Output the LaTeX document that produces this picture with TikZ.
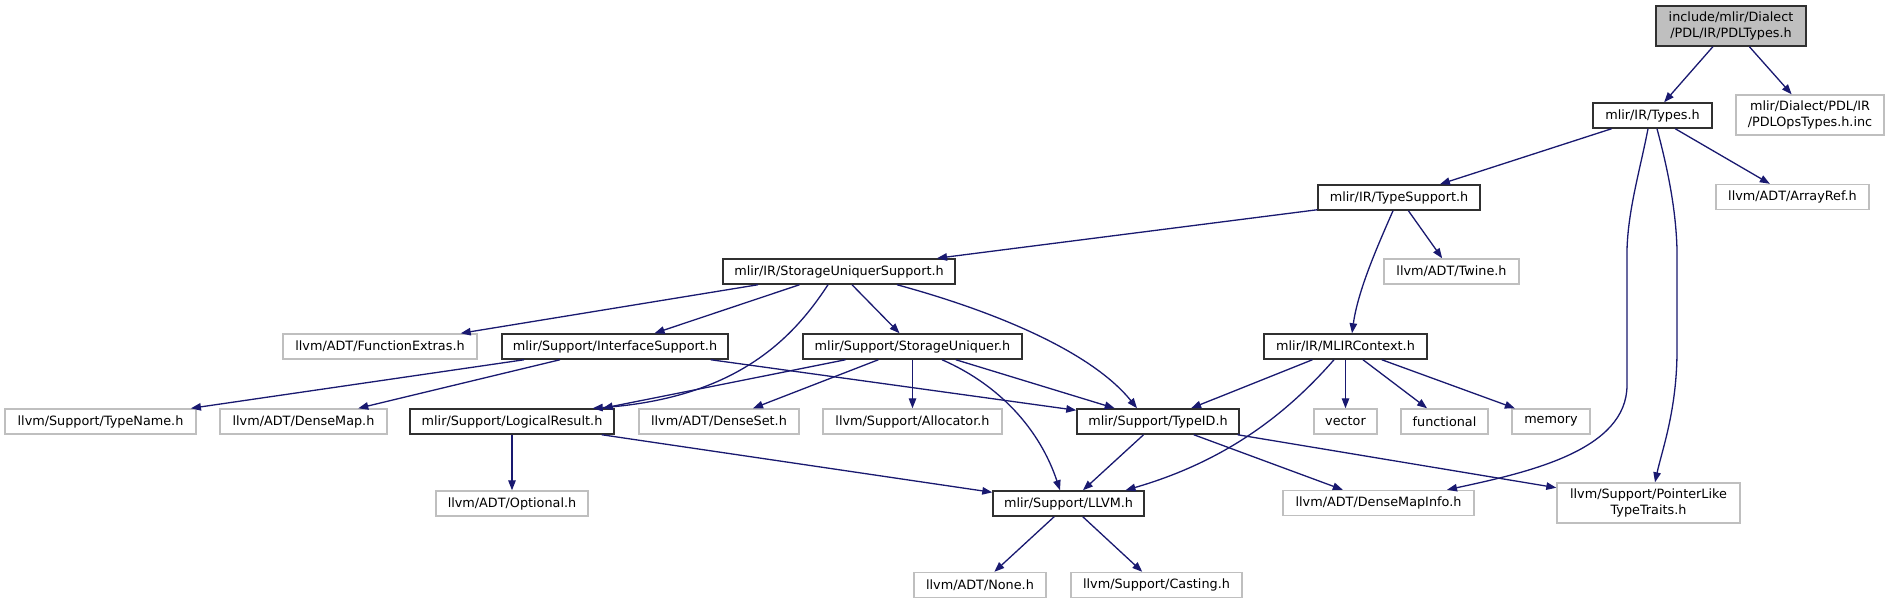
\documentclass[tikz,border=0pt]{standalone}
\usepackage{fontspec}
\setmainfont{DejaVu Sans}
\usetikzlibrary{arrows.meta}
\definecolor{edgecol}{HTML}{191970}
\definecolor{graybd}{HTML}{BFBFBF}
\definecolor{docbd}{HTML}{303030}
\tikzset{
  box/.style={draw, inner sep=0pt, minimum height=25pt, align=center, anchor=center,
    font=\fontsize{12.8}{16}\selectfont},
  doc/.style={box, draw=docbd, line width=1.5pt},
  undoc/.style={box, draw=graybd, line width=1.4pt},
  rootnode/.style={doc, fill=graybd, minimum height=40pt},
  twoline/.style={minimum height=40pt},
  edge/.style={draw=edgecol, line width=1.3pt, -{Triangle[length=10pt,width=7.5pt]}}
}
\begin{document}
\begin{tikzpicture}[x=1pt,y=-1pt]
\fill[white] (0,0) rectangle (1889,604);
\useasboundingbox (0,0) rectangle (1889,604);
% nodes
\node[rootnode, minimum width=150pt] (root) at (1731,26) {include/mlir/Dialect\\/PDL/IR/PDLTypes.h};
\node[doc, minimum width=119pt] (types) at (1652.5,115.5) {mlir/IR/Types.h};
\node[undoc, twoline, minimum width=148pt] (pdlops) at (1810,115) {mlir/Dialect/PDL/IR\\/PDLOpsTypes.h.inc};
\node[doc, minimum width=162pt] (ts) at (1399,197.5) {mlir/IR/TypeSupport.h};
\node[undoc, minimum width=153pt] (arrayref) at (1792.5,197) {llvm/ADT/ArrayRef.h};
\node[doc, minimum width=232pt] (sus) at (839,271.5) {mlir/IR/StorageUniquerSupport.h};
\node[undoc, minimum width=135pt] (twine) at (1451.5,271.5) {llvm/ADT/Twine.h};
\node[undoc, minimum width=194pt] (funcext) at (380,346.5) {llvm/ADT/FunctionExtras.h};
\node[doc, minimum width=226pt] (ifsup) at (615,346.5) {mlir/Support/InterfaceSupport.h};
\node[doc, minimum width=219pt] (su) at (912.5,346.5) {mlir/Support/StorageUniquer.h};
\node[doc, minimum width=163pt] (ctx) at (1345.5,346.5) {mlir/IR/MLIRContext.h};
\node[undoc, minimum width=191pt] (typename) at (100.5,421.5) {llvm/Support/TypeName.h};
\node[undoc, minimum width=167pt] (densemap) at (303.5,421.5) {llvm/ADT/DenseMap.h};
\node[doc, minimum width=204pt] (logres) at (512,421.5) {mlir/Support/LogicalResult.h};
\node[undoc, minimum width=160pt] (denseset) at (719,421.5) {llvm/ADT/DenseSet.h};
\node[undoc, minimum width=179pt] (alloc) at (912.5,421.5) {llvm/Support/Allocator.h};
\node[doc, minimum width=162pt] (typeid) at (1158,421.5) {mlir/Support/TypeID.h};
\node[undoc, minimum width=63pt] (vector) at (1345.5,421.5) {vector};
\node[undoc, minimum width=87pt] (functional) at (1444.5,421.5) {functional};
\node[undoc, minimum width=78pt] (memory) at (1551,421.5) {memory};
\node[undoc, minimum width=152pt] (optional) at (512,503.5) {llvm/ADT/Optional.h};
\node[doc, minimum width=151pt] (llvm) at (1068.5,503.5) {mlir/Support/LLVM.h};
\node[undoc, minimum width=191pt] (dmi) at (1378.5,503) {llvm/ADT/DenseMapInfo.h};
\node[undoc, twoline, minimum width=183pt] (plt) at (1648.5,503) {llvm/Support/PointerLike\\TypeTraits.h};
\node[undoc, minimum width=132pt] (none) at (980,585) {llvm/ADT/None.h};
\node[undoc, minimum width=171pt] (casting) at (1156.5,585) {llvm/Support/Casting.h};
% edges
\draw[edge] (root) -- (types);
\draw[edge] (root) -- (pdlops);
\draw[edge] (types) -- (ts);
\draw[edge] (types) -- (arrayref);
\draw[edge] ([xshift=-4.5pt]types.south) .. controls (1640,170) and (1628,210) .. (1627,250)
  -- (1627,385) .. controls (1627,450) and (1530,472) .. ([xshift=68.5pt]dmi.north);
\draw[edge] ([xshift=4.5pt]types.south) .. controls (1668,170) and (1676,210) .. (1677,250)
  -- (1677,350) .. controls (1677,410) and (1662,450) .. ([xshift=6.5pt]plt.north);
\draw[edge] ([yshift=1pt]ts.south west) -- ([xshift=98pt]sus.north);
\draw[edge] (ts) -- (twine);
\draw[edge] ([xshift=-6pt]ts.south) .. controls (1378,245) and (1358,290) .. ([xshift=6.5pt]ctx.north);
\draw[edge] (sus) -- (funcext);
\draw[edge] (sus) -- (ifsup);
\draw[edge] ([xshift=-11pt]sus.south) .. controls (795,335) and (740,398) .. ([xshift=-22pt]logres.north east);
\draw[edge] (sus) -- (su);
\draw[edge] ([xshift=58pt]sus.south) .. controls (990,310) and (1090,350) .. ([xshift=-21pt]typeid.north);
\draw[edge] (ifsup) -- (typename);
\draw[edge] (ifsup) -- (densemap);
\draw[edge] (ifsup) -- (typeid);
\draw[edge] ([xshift=-67pt]su.south) -- ([xshift=-12pt]logres.north east);
\draw[edge] (su) -- (denseset);
\draw[edge] (su) -- (alloc);
\draw[edge] ([xshift=29.5pt]su.south) .. controls (1000,385) and (1040,430) .. ([xshift=-8.5pt]llvm.north);
\draw[edge] (su) -- (typeid);
\draw[edge] (ctx) -- (typeid);
\draw[edge] ([xshift=-11.5pt]ctx.south) .. controls (1290,410) and (1230,460) .. ([xshift=57pt]llvm.north);
\draw[edge] (ctx) -- (vector);
\draw[edge] (ctx) -- (functional);
\draw[edge] (ctx) -- (memory);
\draw[edge] (logres) -- (optional);
\draw[edge] (logres) -- (llvm);
\draw[edge] (typeid) -- (llvm);
\draw[edge] (typeid) -- (dmi);
\draw[edge] (typeid) -- (plt);
\draw[edge] (llvm) -- (none);
\draw[edge] (llvm) -- (casting);
\end{tikzpicture}
\end{document}
